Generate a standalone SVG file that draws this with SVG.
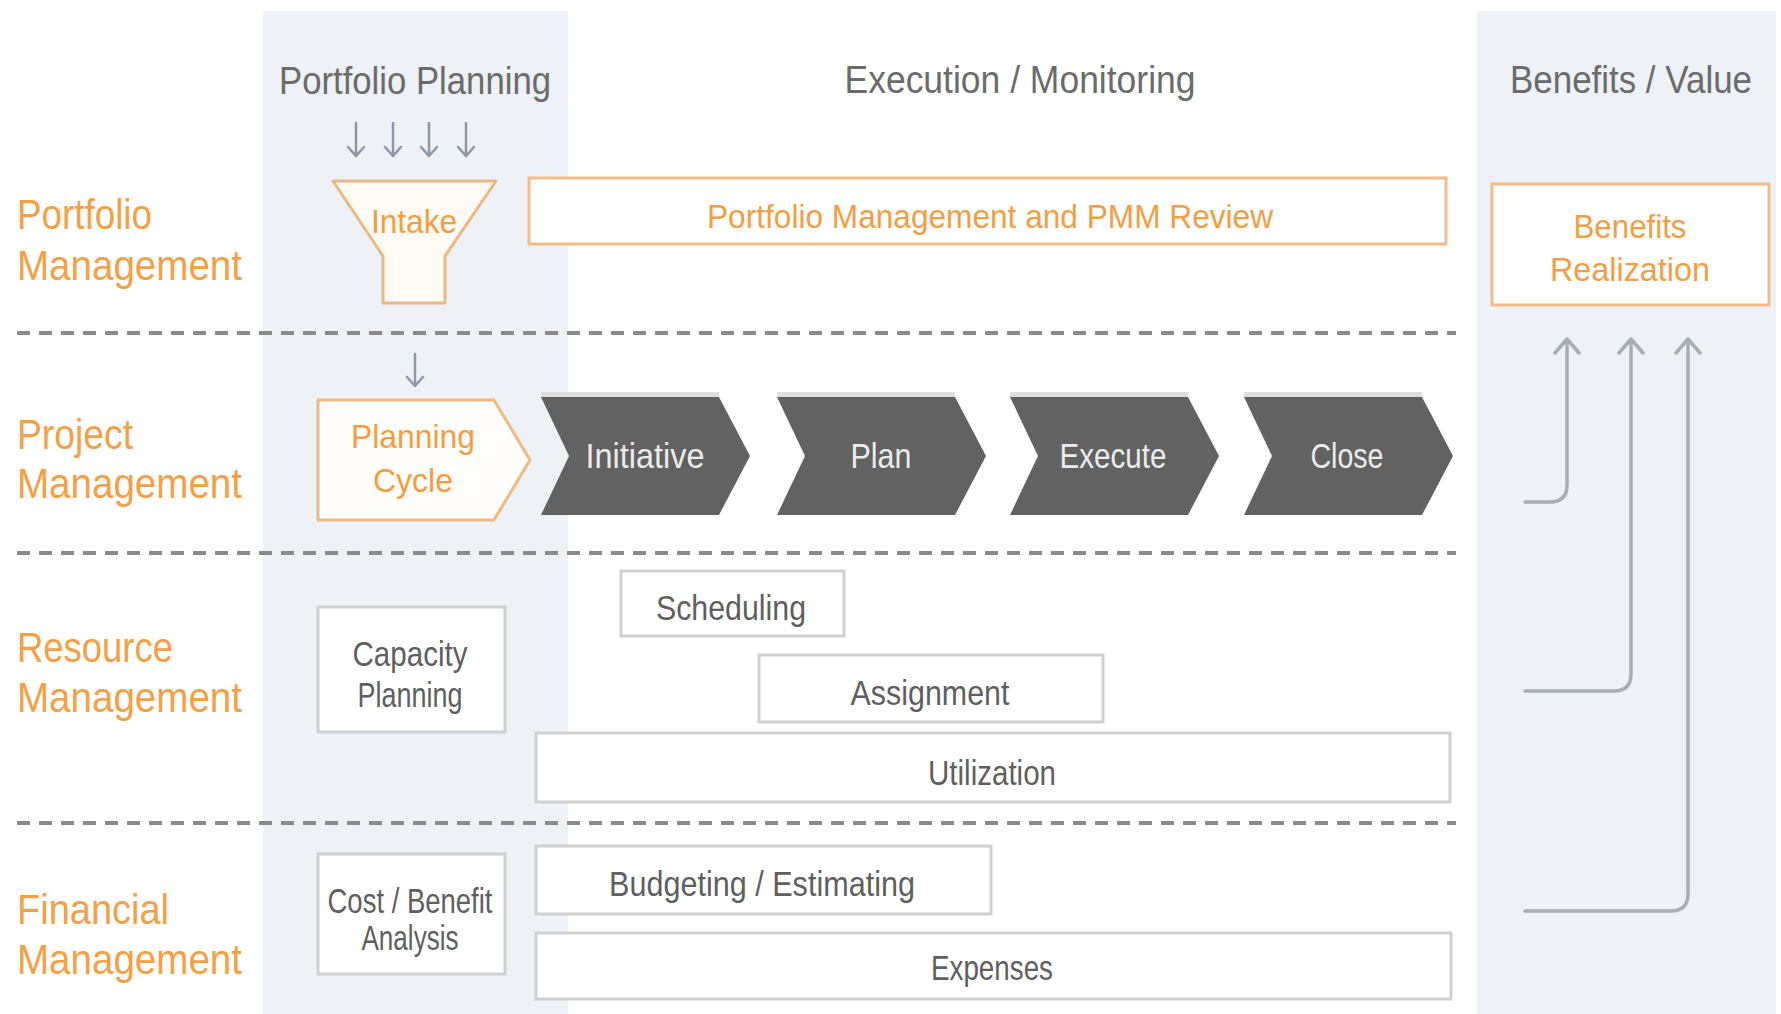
<svg xmlns="http://www.w3.org/2000/svg" width="1781" height="1014" viewBox="0 0 1781 1014">
<style>
text{font-family:"Liberation Sans",Arial,sans-serif}
.hdr{font-size:38px;fill:#6b6b6b;text-anchor:middle}
.row{font-size:42px;fill:#F4A047}
.ot{font-size:34px;fill:#F29E45;text-anchor:middle}
.gt{font-size:35px;fill:#5f5f5f;text-anchor:middle}
.wt{font-size:35px;fill:#ececec;text-anchor:middle}
.obox{fill:#ffffff;stroke:#F1BC88;stroke-width:3}
.gbox{fill:#ffffff;stroke:#d0d0d0;stroke-width:3}
.chev{fill:#626262}
.chsh{fill:#dedede}
.dash{stroke:#8a8a8a;stroke-width:4;stroke-dasharray:13 9;fill:none}
.conn{stroke:#a8adb6;stroke-width:3.5;fill:none;stroke-linecap:round;stroke-linejoin:round}
.sarr{stroke:#8e97a6;stroke-width:2.5;fill:none;stroke-linecap:round;stroke-linejoin:round}
</style>
<rect width="1781" height="1014" fill="#ffffff"/>
<g id="columns">
<rect x="263" y="11" width="305" height="1003" fill="#EEF1F6"/>
<rect x="1477" y="11" width="299" height="1003" fill="#EEF1F6"/>
</g>
<g id="headers">
<text class="hdr" x="415" y="94" textLength="272" lengthAdjust="spacingAndGlyphs">Portfolio Planning</text>
<text class="hdr" x="1020" y="93" textLength="351" lengthAdjust="spacingAndGlyphs">Execution / Monitoring</text>
<text class="hdr" x="1631" y="93" textLength="242" lengthAdjust="spacingAndGlyphs">Benefits / Value</text>
</g>
<g id="row-labels">
<text class="row" x="17" y="229" textLength="135" lengthAdjust="spacingAndGlyphs">Portfolio</text>
<text class="row" x="17" y="280" textLength="225" lengthAdjust="spacingAndGlyphs">Management</text>
<text class="row" x="17" y="449" textLength="116" lengthAdjust="spacingAndGlyphs">Project</text>
<text class="row" x="17" y="498" textLength="225" lengthAdjust="spacingAndGlyphs">Management</text>
<text class="row" x="17" y="662" textLength="156" lengthAdjust="spacingAndGlyphs">Resource</text>
<text class="row" x="17" y="712" textLength="225" lengthAdjust="spacingAndGlyphs">Management</text>
<text class="row" x="17" y="924" textLength="152" lengthAdjust="spacingAndGlyphs">Financial</text>
<text class="row" x="17" y="974" textLength="225" lengthAdjust="spacingAndGlyphs">Management</text>
</g>
<g id="lane-dividers">
<line class="dash" x1="17" y1="333" x2="1456" y2="333"/>
<line class="dash" x1="17" y1="553" x2="1456" y2="553"/>
<line class="dash" x1="17" y1="823" x2="1456" y2="823"/>
</g>
<g id="intake">
<polygon points="333,181 496,181 445,256 445,303 383,303 383,256" fill="#FFFBF4" stroke="#E9B985" stroke-width="3" stroke-linejoin="round"/>
<text class="ot" x="414" y="233" textLength="86" lengthAdjust="spacingAndGlyphs">Intake</text>
</g>
<g id="portfolio-review">
<rect class="obox" x="529" y="178" width="917" height="66"/>
<text class="ot" x="990" y="228" textLength="566" lengthAdjust="spacingAndGlyphs">Portfolio Management and PMM Review</text>
</g>
<g id="benefits-realization">
<rect class="obox" x="1492" y="184" width="277" height="121"/>
<text class="ot" x="1630" y="238" textLength="113" lengthAdjust="spacingAndGlyphs">Benefits</text>
<text class="ot" x="1630" y="281" textLength="160" lengthAdjust="spacingAndGlyphs">Realization</text>
</g>
<g id="planning-cycle">
<polygon points="318,400 494,400 530,460 494,520 318,520" fill="#FFFDF9" stroke="#EDBA84" stroke-width="3" stroke-linejoin="round"/>
<text class="ot" x="413" y="448" textLength="124" lengthAdjust="spacingAndGlyphs">Planning</text>
<text class="ot" x="413" y="492" textLength="80" lengthAdjust="spacingAndGlyphs">Cycle</text>
</g>
<g id="initiative">
<rect class="chsh" x="541" y="392" width="178" height="5"/>
<polygon class="chev" points="541,397 719,397 750,456 719,515 541,515 569,456"/>
<text class="wt" x="645" y="468" textLength="119" lengthAdjust="spacingAndGlyphs">Initiative</text>
</g>
<g id="plan">
<rect class="chsh" x="777" y="392" width="178" height="5"/>
<polygon class="chev" points="777,397 955,397 986,456 955,515 777,515 805,456"/>
<text class="wt" x="881" y="468" textLength="61" lengthAdjust="spacingAndGlyphs">Plan</text>
</g>
<g id="execute">
<rect class="chsh" x="1010" y="392" width="178" height="5"/>
<polygon class="chev" points="1010,397 1188,397 1219,456 1188,515 1010,515 1038,456"/>
<text class="wt" x="1113" y="468" textLength="107" lengthAdjust="spacingAndGlyphs">Execute</text>
</g>
<g id="close">
<rect class="chsh" x="1244" y="392" width="178" height="5"/>
<polygon class="chev" points="1244,397 1422,397 1453,456 1422,515 1244,515 1272,456"/>
<text class="wt" x="1347" y="468" textLength="73" lengthAdjust="spacingAndGlyphs">Close</text>
</g>
<g id="capacity-planning">
<rect class="gbox" x="318" y="607" width="187" height="125"/>
<text class="gt" x="410" y="666" font-size="31" textLength="115" lengthAdjust="spacingAndGlyphs">Capacity</text>
<text class="gt" x="410" y="707" font-size="31" textLength="105" lengthAdjust="spacingAndGlyphs">Planning</text>
</g>
<g id="scheduling">
<rect class="gbox" x="621" y="571" width="223" height="65"/>
<text class="gt" x="731" y="620" textLength="150" lengthAdjust="spacingAndGlyphs">Scheduling</text>
</g>
<g id="assignment">
<rect class="gbox" x="759" y="655" width="344" height="67"/>
<text class="gt" x="930" y="705" textLength="159" lengthAdjust="spacingAndGlyphs">Assignment</text>
</g>
<g id="utilization">
<rect class="gbox" x="536" y="733" width="914" height="69"/>
<text class="gt" x="992" y="785" textLength="128" lengthAdjust="spacingAndGlyphs">Utilization</text>
</g>
<g id="cost-benefit">
<rect class="gbox" x="318" y="854" width="187" height="120"/>
<text class="gt" x="410" y="913" font-size="28" textLength="165" lengthAdjust="spacingAndGlyphs">Cost / Benefit</text>
<text class="gt" x="410" y="950" font-size="28" textLength="97" lengthAdjust="spacingAndGlyphs">Analysis</text>
</g>
<g id="budgeting">
<rect class="gbox" x="536" y="846" width="455" height="68"/>
<text class="gt" x="762" y="896" textLength="306" lengthAdjust="spacingAndGlyphs">Budgeting / Estimating</text>
</g>
<g id="expenses">
<rect class="gbox" x="536" y="933" width="915" height="66"/>
<text class="gt" x="992" y="980" textLength="122" lengthAdjust="spacingAndGlyphs">Expenses</text>
</g>
<g id="connectors">
<g class="sarr">
<path d="M356,123 V156 M348,147 L356,156 L364,147"/>
<path d="M393,123 V156 M385,147 L393,156 L401,147"/>
<path d="M429,123 V156 M421,147 L429,156 L437,147"/>
<path d="M466,123 V156 M458,147 L466,156 L474,147"/>
<path d="M415,354 V386 M407,377 L415,386 L423,377"/>
</g>
<path class="conn" d="M1525,502 H1550 Q1567,502 1567,485 V340 M1555,353 L1567,339 L1579,353"/>
<path class="conn" d="M1525,691 H1614 Q1631,691 1631,674 V340 M1619,353 L1631,339 L1643,353"/>
<path class="conn" d="M1525,911 H1671 Q1688,911 1688,894 V340 M1676,353 L1688,339 L1700,353"/>
</g>
</svg>
